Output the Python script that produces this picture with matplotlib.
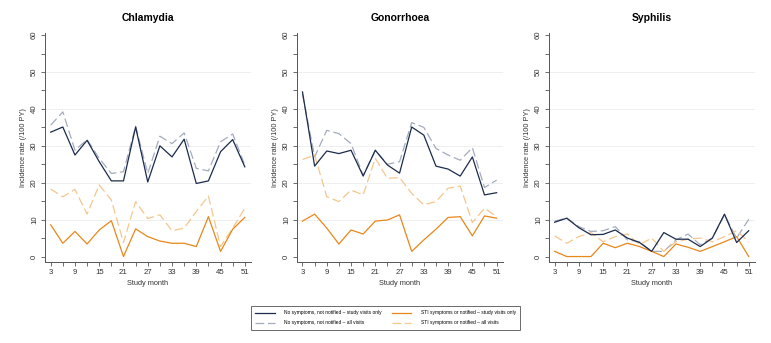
import matplotlib

matplotlib.use('Agg')
import matplotlib.pyplot as plt
from matplotlib.lines import Line2D

plt.rcParams['font.family'] = ['Liberation Sans', 'DejaVu Sans']

# --- data (incidence rate per 100 PY) ---
months = [3, 6, 9, 12, 15, 18, 21, 24, 27, 30, 33, 36, 39, 42, 45, 48, 51]

panels = ['Chlamydia', 'Gonorrhoea', 'Syphilis']

# no symptoms, not notified - study visits only
nosym_study = {
    'Chlamydia': [33.7, 35.1, 27.5, 31.5, 25.7, 20.5, 20.5, 35.1, 20.2, 30.0, 27.0, 31.8, 19.8, 20.5, 28.4, 31.7, 24.3],
    'Gonorrhoea': [44.6, 24.5, 28.6, 27.9, 28.8, 21.8, 28.8, 24.8, 22.6, 35.1, 32.9, 24.5, 23.7, 21.8, 27.0, 16.7, 17.3],
    'Syphilis': [9.3, 10.4, 7.8, 5.9, 6.0, 7.2, 5.0, 3.8, 1.4, 6.5, 4.7, 4.7, 2.7, 5.0, 11.5, 3.8, 7.0],
}
# no symptoms, not notified - all visits
nosym_all = {
    'Chlamydia': [35.6, 39.2, 28.8, 31.7, 26.6, 22.5, 23.0, 35.3, 22.5, 32.6, 30.6, 33.5, 23.9, 23.2, 31.1, 33.2, 24.8],
    'Gonorrhoea': [44.0, 27.0, 34.2, 33.3, 30.6, 22.0, 28.8, 25.0, 25.7, 36.3, 35.0, 29.3, 27.5, 26.1, 29.5, 18.7, 20.7],
    'Syphilis': [9.6, 10.4, 8.1, 6.8, 7.0, 8.1, 4.5, 4.0, 1.4, 1.4, 4.5, 6.1, 3.2, 5.0, 11.3, 5.0, 10.1],
}
# STI symptoms or notified - study visits only
sym_study = {
    'Chlamydia': [8.6, 3.6, 6.8, 3.4, 7.2, 9.7, 0.0, 7.5, 5.4, 4.2, 3.6, 3.6, 2.7, 10.8, 1.4, 7.4, 10.6],
    'Gonorrhoea': [9.6, 11.5, 7.7, 3.4, 7.2, 6.1, 9.6, 9.9, 11.3, 1.4, 4.5, 7.4, 10.6, 10.8, 5.6, 11.0, 10.4],
    'Syphilis': [1.4, 0.0, 0.0, 0.0, 3.6, 2.4, 3.6, 2.7, 1.4, 0.0, 3.4, 2.5, 1.4, 2.7, 4.0, 5.4, 0.0],
}
# STI symptoms or notified - all visits
sym_all = {
    'Chlamydia': [18.3, 16.2, 18.2, 11.5, 19.4, 15.3, 3.8, 14.9, 10.3, 11.3, 7.0, 7.7, 12.2, 16.4, 2.7, 7.7, 13.1],
    'Gonorrhoea': [26.3, 27.5, 16.2, 14.9, 18.0, 16.7, 26.6, 21.2, 21.4, 17.1, 14.0, 14.9, 18.5, 19.1, 9.2, 13.1, 10.8],
    'Syphilis': [5.6, 3.6, 5.4, 6.5, 4.0, 5.4, 6.1, 3.2, 5.0, 1.4, 4.0, 4.7, 5.0, 4.0, 5.4, 7.0, 4.0],
}

legend_labels = [
    'No symptoms, not notified \u2013 study visits only',
    'No symptoms, not notified \u2013 all visits',
    'STI symptoms or notified \u2013 study visits only',
    'STI symptoms or notified \u2013 all visits',
]

NAVY = '#1c2b4c'
GREY = '#a3abbd'
ORANGE = '#e8871a'
LORANGE = '#f6c68d'
AXIS = '#555555'

fig = plt.figure(figsize=(7.71, 3.43), dpi=100)
lefts = [0.0584, 0.385, 0.712]

for name, left in zip(panels, lefts):
    ax = fig.add_axes([left, 0.237, 0.267, 0.666])
    ax.plot(months, nosym_all[name], color=GREY, lw=0.9, dashes=(7, 3))
    ax.plot(months, sym_all[name], color=LORANGE, lw=0.9, dashes=(7, 3))
    ax.plot(months, sym_study[name], color=ORANGE, lw=0.9)
    ax.plot(months, nosym_study[name], color=NAVY, lw=0.9)

    ax.set_xlim(1.6, 52.5)
    ax.set_ylim(-1.4, 60.5)
    ax.set_xticks(range(3, 52, 6))
    ax.set_xticks(range(6, 52, 6), minor=True)
    ax.set_yticks(range(0, 61, 10))
    ax.set_yticks(range(5, 61, 10), minor=True)
    ax.tick_params(axis='both', which='both', direction='out', length=3, width=0.6,
                   color=AXIS, labelsize=5.6, labelcolor='#333333', pad=2)
    for lab in ax.get_yticklabels():
        lab.set_rotation(90)
        lab.set_va('center')

    ax.grid(axis='y', color='#ececec', lw=0.6)
    gl = ax.get_ygridlines()
    gl[0].set_visible(False)
    gl[-1].set_visible(False)
    ax.set_axisbelow(True)

    for s in ['top', 'right']:
        ax.spines[s].set_visible(False)
    for s in ['left', 'bottom']:
        ax.spines[s].set_color(AXIS)
        ax.spines[s].set_linewidth(0.7)

    ax.set_title(name, fontsize=7.5, fontweight='bold', pad=9)
    ax.set_xlabel('Study month', fontsize=5.3, color='#333333', labelpad=3)
    ax.set_ylabel('Incidence rate (/100 PY)', fontsize=5.3, color='#333333', labelpad=3)

handles = [
    Line2D([], [], color=NAVY, lw=0.9),
    Line2D([], [], color=GREY, lw=0.9, dashes=(7, 3)),
    Line2D([], [], color=ORANGE, lw=0.9),
    Line2D([], [], color=LORANGE, lw=0.9, dashes=(7, 3)),
]
leg = fig.legend(handles, legend_labels, ncol=2, fontsize=3.5, loc='center',
                 bbox_to_anchor=(0.322, 0.037, 0.356, 0.073), mode='expand',
                 frameon=True, fancybox=False, handlelength=4.0, handletextpad=2,
                 borderpad=0.9, labelspacing=1.0, columnspacing=2)
leg.get_frame().set_edgecolor('#444444')
leg.get_frame().set_linewidth(0.7)

plt.savefig('out.png', dpi=100)
plt.close()
